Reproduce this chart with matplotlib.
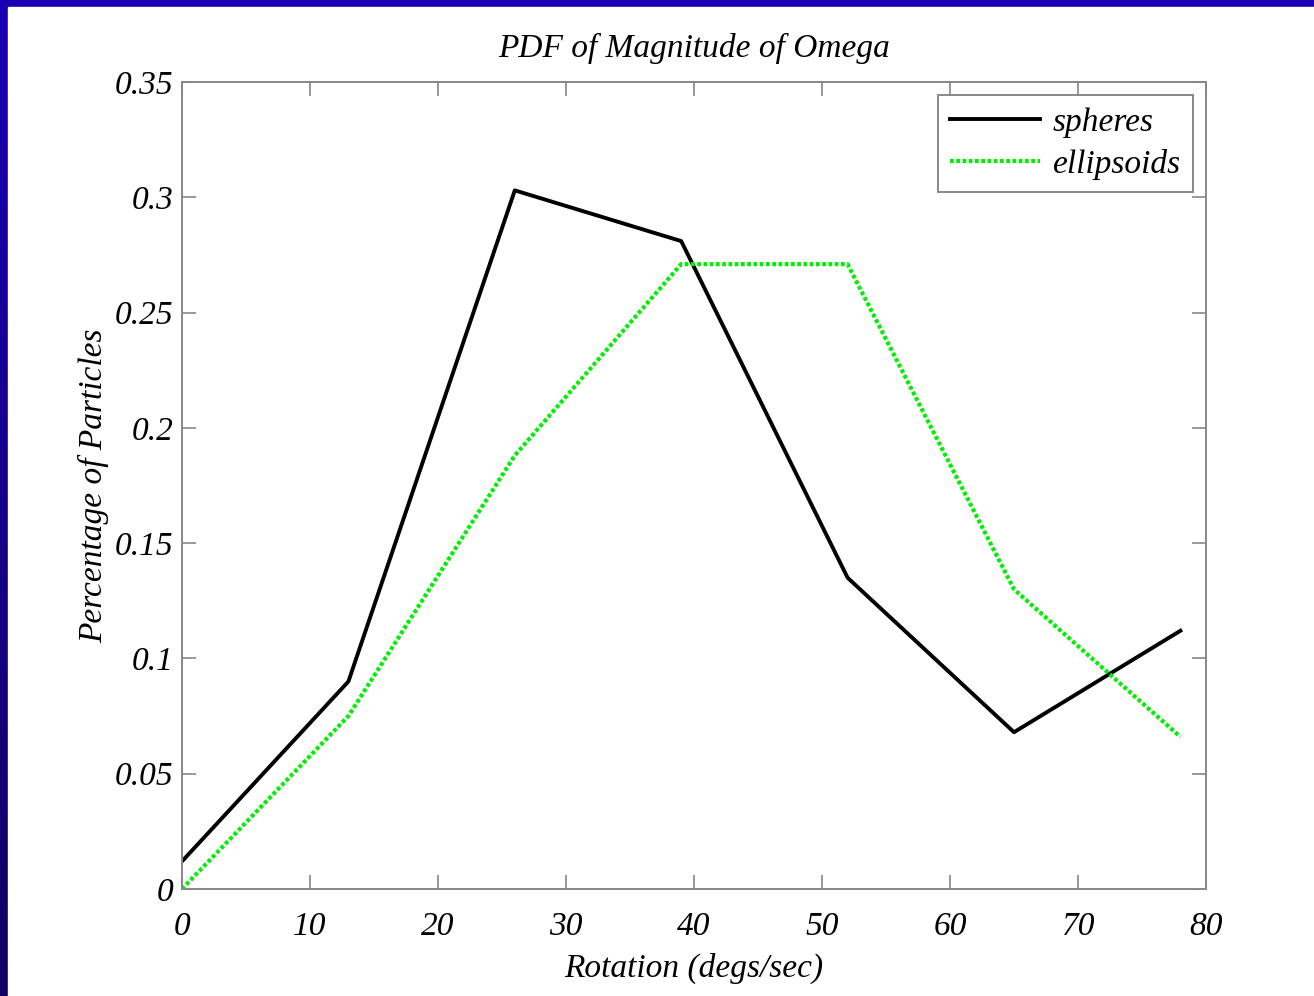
import matplotlib.pyplot as plt
import numpy as np
from matplotlib.patches import Rectangle
from matplotlib.colors import LinearSegmentedColormap

# Daten
rotation = [0, 13, 26, 39, 52, 65, 78]
spheres = [0.012, 0.090, 0.303, 0.281, 0.135, 0.068, 0.112]
ellipsoids = [0.0, 0.075, 0.188, 0.271, 0.271, 0.130, 0.066]

x_ticks = [0, 10, 20, 30, 40, 50, 60, 70, 80]
y_ticks = [0, 0.05, 0.1, 0.15, 0.2, 0.25, 0.3, 0.35]
y_labels = ['0', '0.05', '0.1', '0.15', '0.2', '0.25', '0.3', '0.35']

plt.rcParams['font.family'] = ['Liberation Serif', 'DejaVu Serif']
plt.rcParams['font.style'] = 'italic'

fig = plt.figure(figsize=(13.14, 9.96), dpi=100)

# blauer Rahmen (Folienhintergrund) mit Verlauf
bg = fig.add_axes([0, 0, 1, 1], zorder=-2)
grad = np.linspace(0, 1, 256).reshape(-1, 1)
cmap = LinearSegmentedColormap.from_list('slide', ['#1a00b4', '#0e0060'])
bg.imshow(grad, aspect='auto', cmap=cmap, extent=[0, 1, 0, 1], origin='upper')
bg.add_patch(Rectangle((8 / 1314, 0), 1, 1 - 7 / 996, color='white'))
bg.set_xlim(0, 1)
bg.set_ylim(0, 1)
bg.axis('off')

ax = fig.add_axes([182 / 1314, 1 - 889 / 996, 1024 / 1314, 807 / 996])
ax.plot(rotation, spheres, color='black', linewidth=2.8, label='spheres')
ax.plot(rotation, ellipsoids, color='#00ee00', linewidth=3.0, linestyle=(0, (0.9, 0.6)),
        label='ellipsoids')

ax.set_xlim(0, 80)
ax.set_ylim(0, 0.35)
ax.set_xticks(x_ticks)
ax.set_yticks(y_ticks)
ax.set_yticklabels(y_labels)
ax.tick_params(direction='in', length=10, width=1.2, color='#888888', top=True, right=True,
               labelsize=24)
ax.tick_params(axis='x', pad=16)
ax.tick_params(axis='y', pad=6)
for s in ax.spines.values():
    s.set_color('#888888')
    s.set_linewidth(1.4)

ax.set_title('PDF of Magnitude of Omega', fontsize=24, pad=18)
ax.set_xlabel('Rotation (degs/sec)', fontsize=24, labelpad=8)
ax.set_ylabel('Percentage of Particles', fontsize=24, labelpad=4)

leg = ax.legend(loc='upper right', fontsize=24, fancybox=False, edgecolor='#888888',
                framealpha=1, handlelength=2.7, borderpad=0.35, labelspacing=0.35,
                handletextpad=0.4, borderaxespad=0.4)
leg.get_frame().set_linewidth(1.4)

fig.savefig('out.png', dpi=100)
